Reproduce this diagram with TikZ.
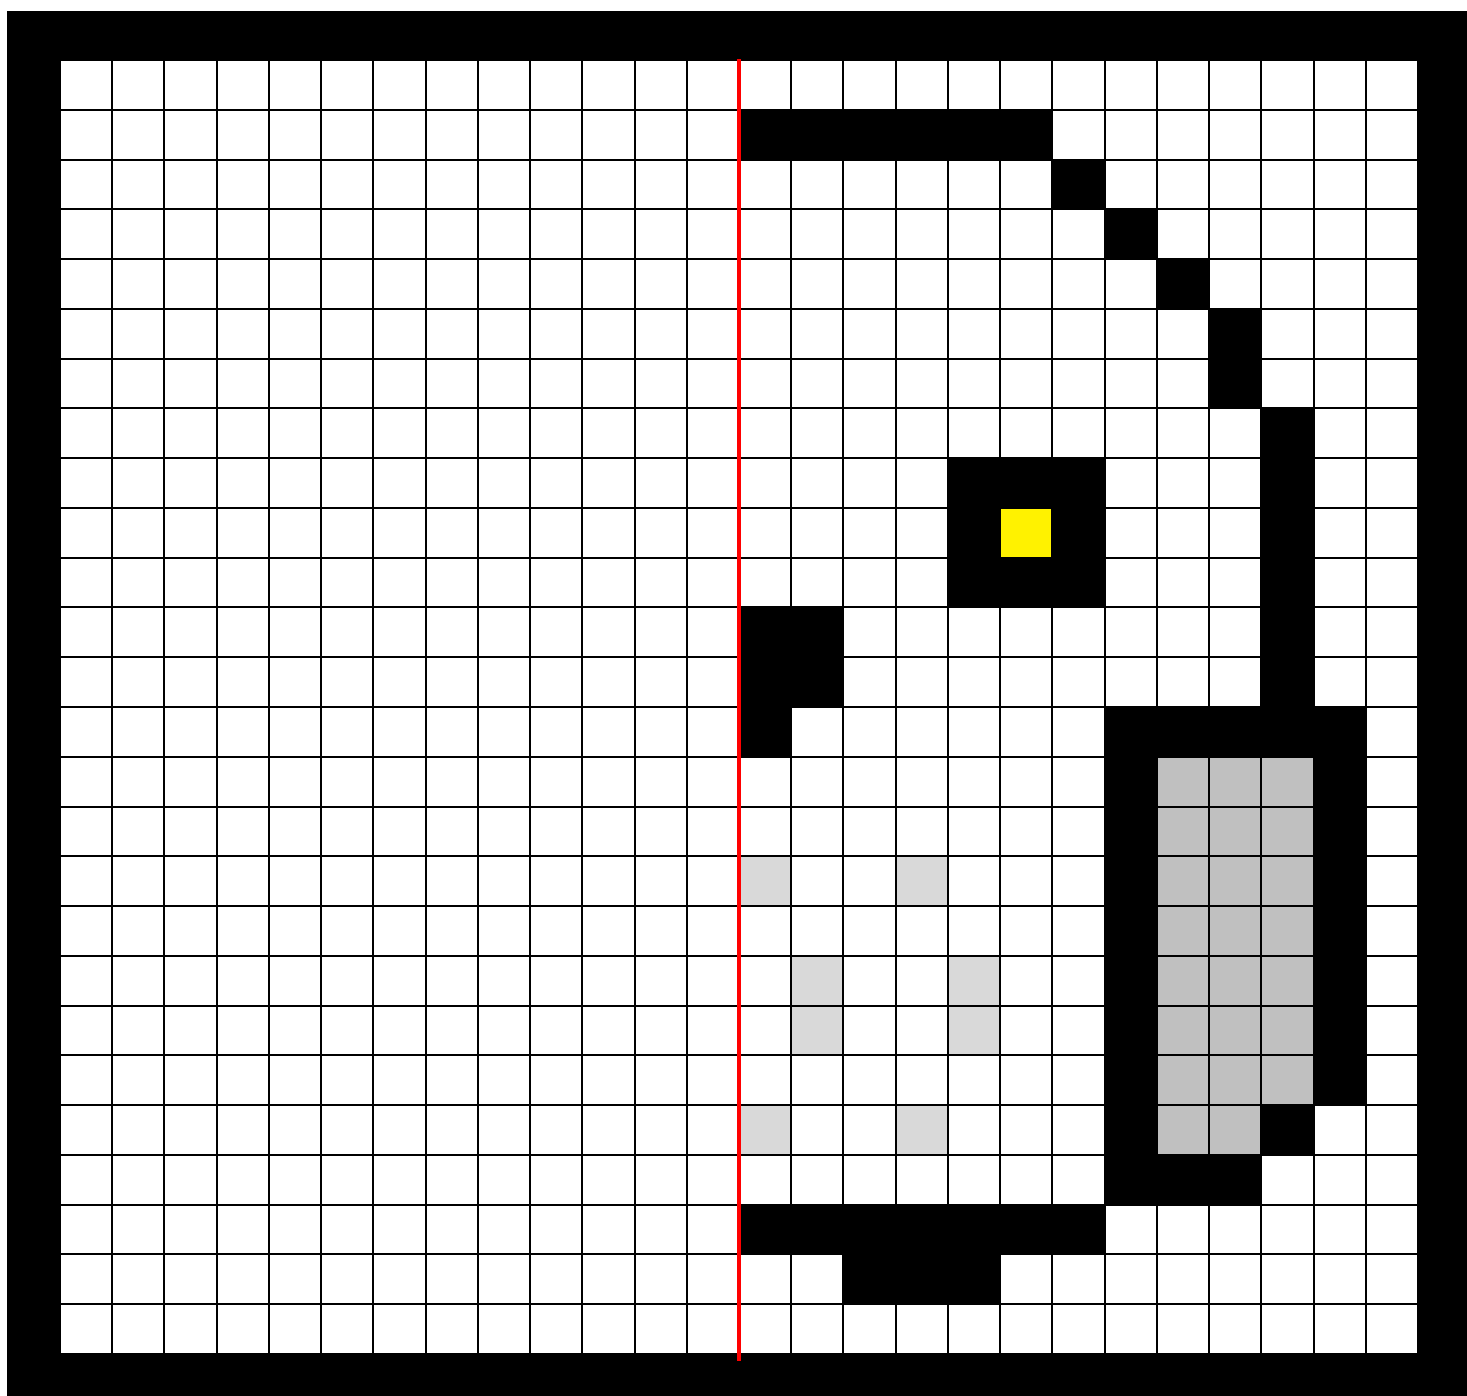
\documentclass[tikz,border=0pt]{standalone}
\definecolor{midgray}{HTML}{C0C0C0}
\definecolor{palegray}{HTML}{D9D9D9}
\tikzset{
  gridline/.style={black, line width=2pt},
  blk/.style={fill=black},
  mid/.style={fill=midgray},
  pale/.style={fill=palegray},
  mirror/.style={red, line width=4pt}
}
\begin{document}
\begin{tikzpicture}[x=1pt,y=-1pt]
\useasboundingbox (0,0) rectangle (1467,1396);
\fill[white] (0,0) rectangle (1467,1396);
\fill[black] (7,11) rectangle (1467,1396);
\begin{scope}[shift={(60,60)}, x=52.23pt, y=-49.77pt]
  \fill[white] (0,0) rectangle (26,26);
  % black shapes
  \path[blk] (13,1) rectangle (19,2);
  \path[blk] (19,2) rectangle (20,3);
  \path[blk] (20,3) rectangle (21,4);
  \path[blk] (21,4) rectangle (22,5);
  \path[blk] (22,5) rectangle (23,7);
  \path[blk] (23,7) rectangle (24,14);
  \path[blk] (17,8) rectangle (20,11);
  \fill[yellow] (18,9) rectangle (19,10);
  \path[blk] (13,11) rectangle (15,13);
  \path[blk] (13,13) rectangle (14,14);
  \path[blk] (20,13) rectangle (25,14);
  \path[blk] (20,14) rectangle (21,23);
  \path[blk] (24,14) rectangle (25,21);
  \path[blk] (23,21) rectangle (24,22);
  \path[blk] (21,22) rectangle (23,23);
  \path[blk] (13,23) rectangle (20,24);
  \path[blk] (15,24) rectangle (18,25);
  % gray fill
  \path[mid] (21,14) rectangle (24,21);
  \path[mid] (21,21) rectangle (23,22);
  % pale cells
  \foreach \c/\r in {13/16,16/16,14/18,17/18,14/19,17/19,13/21,16/21}
    \path[pale] (\c,\r) rectangle ++(1,1);
  % grid
  \foreach \i in {0,...,26} {
    \draw[gridline] (\i,0) -- (\i,26);
    \draw[gridline] (0,\i) -- (26,\i);
  }
  % mirror line
  \coordinate (mtop) at (13,-0.02);
  \coordinate (mbot) at (13,26.14);
  \draw[mirror] (mtop) -- (mbot);
\end{scope}
\end{tikzpicture}
\end{document}
